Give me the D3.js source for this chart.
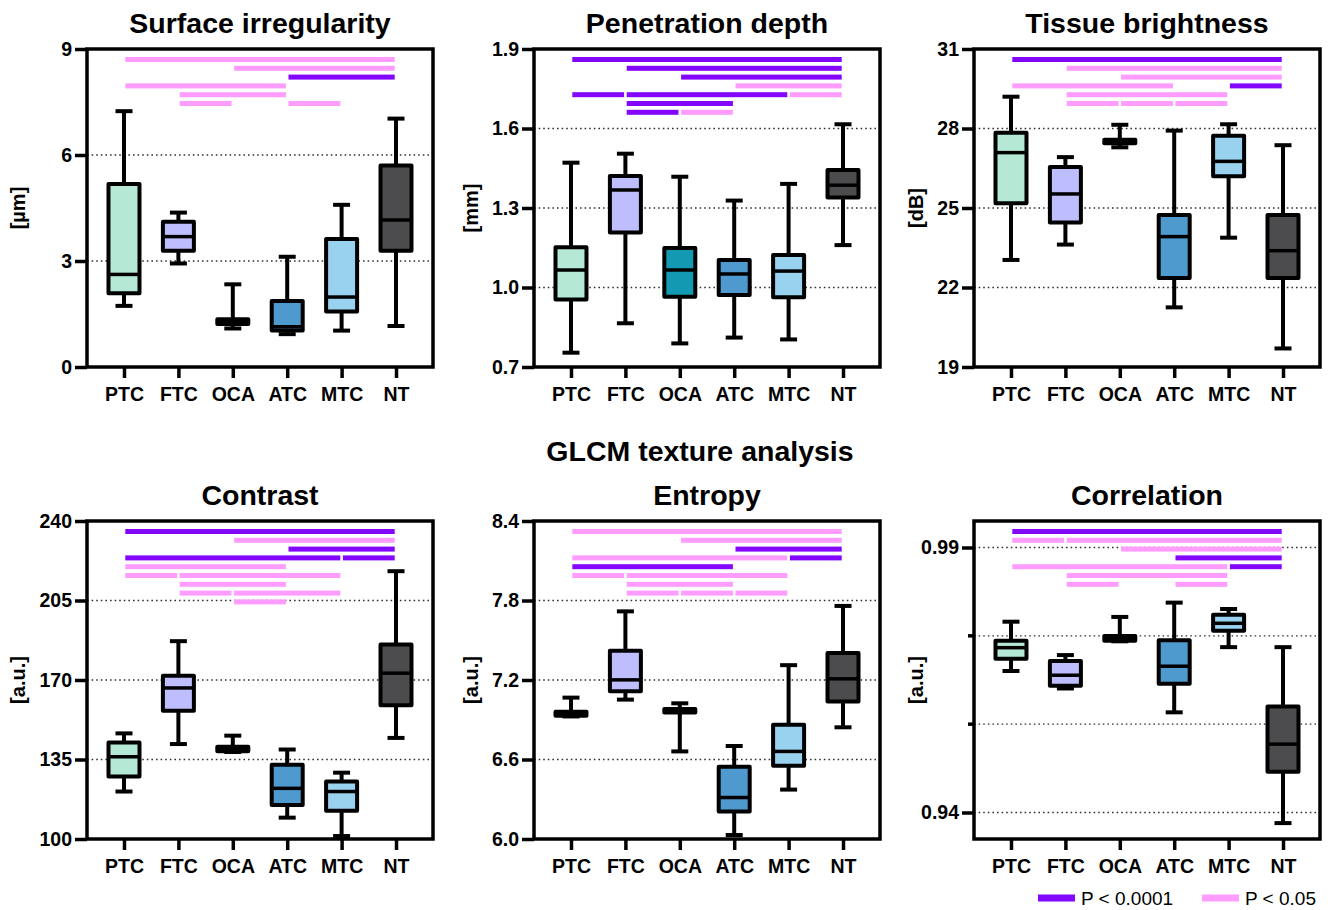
<!DOCTYPE html>
<html>
<head>
<meta charset="utf-8">
<script src="https://cdn.jsdelivr.net/npm/d3@7"></script>
<style>
  body { margin: 0; background: #fff; }
  text { font-family: "Liberation Sans", Arial, sans-serif; }
</style>
</head>
<body>
<svg id="chart" width="1338" height="910"></svg>
<script>
const categories = ["PTC", "FTC", "OCA", "ATC", "MTC", "NT"];
const boxColors = ["#b5e9d6", "#bebdfe", "#1399b2", "#4e9ace", "#99d2ee", "#4c4c4e"];

// five-number summaries per category: [min, q1, median, q3, max]
const surfaceIrregularity = [
  [1.73, 2.09, 2.62, 5.18, 7.24],
  [2.93, 3.29, 3.69, 4.11, 4.37],
  [1.09, 1.22, 1.28, 1.35, 2.34],
  [0.93, 1.03, 1.14, 1.87, 3.12],
  [1.03, 1.57, 1.98, 3.62, 4.59],
  [1.16, 3.29, 4.16, 5.70, 7.03]
];
const penetrationDepth = [
  [0.754, 0.955, 1.066, 1.152, 1.471],
  [0.865, 1.208, 1.368, 1.421, 1.505],
  [0.789, 0.965, 1.066, 1.149, 1.418],
  [0.811, 0.972, 1.051, 1.104, 1.328],
  [0.804, 0.963, 1.062, 1.123, 1.391],
  [1.160, 1.340, 1.386, 1.443, 1.616]
];
const tissueBrightness = [
  [23.04, 25.18, 27.09, 27.84, 29.20],
  [23.62, 24.45, 25.53, 26.55, 26.92],
  [27.29, 27.44, 27.53, 27.58, 28.14],
  [21.25, 22.36, 23.92, 24.74, 27.92],
  [23.88, 26.20, 26.76, 27.73, 28.16],
  [19.70, 22.36, 23.39, 24.74, 27.37]
];
const contrast = [
  [120.9, 127.5, 136.2, 142.5, 146.5],
  [141.8, 156.5, 166.5, 171.9, 187.1],
  [138.3, 138.6, 139.8, 140.6, 145.5],
  [109.4, 115.0, 122.3, 132.7, 139.4],
  [101.3, 112.4, 120.9, 125.3, 129.2],
  [144.5, 158.9, 173.0, 185.6, 217.9]
];
const entropy = [
  [6.925, 6.931, 6.946, 6.961, 7.067],
  [7.052, 7.115, 7.201, 7.421, 7.718],
  [6.661, 6.954, 6.969, 6.982, 7.024],
  [6.030, 6.207, 6.313, 6.545, 6.702],
  [6.373, 6.553, 6.661, 6.863, 7.312],
  [6.843, 7.037, 7.209, 7.403, 7.759]
];
const correlation = [
  [0.9667, 0.9690, 0.9711, 0.9724, 0.9760],
  [0.9634, 0.9639, 0.9659, 0.9686, 0.9697],
  [0.9723, 0.9724, 0.9728, 0.9733, 0.9769],
  [0.9589, 0.9643, 0.9676, 0.9725, 0.9796],
  [0.9712, 0.9743, 0.9757, 0.9773, 0.9784],
  [0.9380, 0.9477, 0.9529, 0.9600, 0.9712]
];

// significance bars: [row, from, to, p]
const surfaceSig = [
  [0, "PTC", "NT", 0.05], [1, "OCA", "NT", 0.05], [2, "ATC", "NT", 0.0001],
  [3, "PTC", "ATC", 0.05], [4, "FTC", "ATC", 0.05],
  [5, "FTC", "OCA", 0.05], [5, "ATC", "MTC", 0.05]
];
const depthSig = [
  [0, "PTC", "NT", 0.0001], [1, "FTC", "NT", 0.0001], [2, "OCA", "NT", 0.0001],
  [3, "ATC", "NT", 0.05],
  [4, "PTC", "FTC", 0.0001], [4, "FTC", "MTC", 0.0001], [4, "MTC", "NT", 0.05],
  [5, "FTC", "ATC", 0.0001],
  [6, "FTC", "OCA", 0.0001], [6, "OCA", "ATC", 0.05]
];
const brightnessSig = [
  [0, "PTC", "NT", 0.0001], [1, "FTC", "NT", 0.05], [2, "OCA", "NT", 0.05],
  [3, "PTC", "ATC", 0.05], [3, "MTC", "NT", 0.0001],
  [4, "FTC", "MTC", 0.05],
  [5, "FTC", "OCA", 0.05], [5, "OCA", "ATC", 0.05], [5, "ATC", "MTC", 0.05]
];
const contrastSig = [
  [0, "PTC", "NT", 0.0001], [1, "OCA", "NT", 0.05], [2, "ATC", "NT", 0.0001],
  [3, "PTC", "MTC", 0.0001], [3, "MTC", "NT", 0.0001],
  [4, "PTC", "ATC", 0.05],
  [5, "PTC", "FTC", 0.05], [5, "FTC", "MTC", 0.05],
  [6, "FTC", "ATC", 0.05],
  [7, "FTC", "OCA", 0.05], [7, "OCA", "MTC", 0.05],
  [8, "OCA", "ATC", 0.05]
];
const entropySig = [
  [0, "PTC", "NT", 0.05], [1, "OCA", "NT", 0.05], [2, "ATC", "NT", 0.0001],
  [3, "PTC", "MTC", 0.05], [3, "MTC", "NT", 0.0001],
  [4, "PTC", "ATC", 0.0001],
  [5, "PTC", "FTC", 0.05], [5, "FTC", "MTC", 0.05],
  [6, "FTC", "ATC", 0.05],
  [7, "FTC", "OCA", 0.05], [7, "OCA", "ATC", 0.05], [7, "ATC", "MTC", 0.05]
];
const correlationSig = [
  [0, "PTC", "NT", 0.0001],
  [1, "PTC", "FTC", 0.05], [1, "FTC", "NT", 0.05],
  [2, "OCA", "NT", 0.05], [3, "ATC", "NT", 0.0001],
  [4, "PTC", "MTC", 0.05], [4, "MTC", "NT", 0.0001],
  [5, "FTC", "MTC", 0.05],
  [6, "FTC", "OCA", 0.05], [6, "ATC", "MTC", 0.05]
];

const sigColors = { 0.0001: "#8306ff", 0.05: "#ff9cff" };

const W = 346, H = 318;
const panels = [
  { title: "Surface irregularity", unit: "[µm]", data: surfaceIrregularity, sig: surfaceSig,
    x: 87, y: 49, domain: [0, 9], ticks: [0, 3, 6, 9], fmt: d3.format("d"), labelX: -69 },
  { title: "Penetration depth", unit: "[mm]", data: penetrationDepth, sig: depthSig,
    x: 534, y: 49, domain: [0.7, 1.9], ticks: [0.7, 1.0, 1.3, 1.6, 1.9], fmt: d3.format(".1f"), labelX: -63 },
  { title: "Tissue brightness", unit: "[dB]", data: tissueBrightness, sig: brightnessSig,
    x: 974, y: 49, domain: [19, 31], ticks: [19, 22, 25, 28, 31], fmt: d3.format("d"), labelX: -58 },
  { title: "Contrast", unit: "[a.u.]", data: contrast, sig: contrastSig,
    x: 87, y: 521, domain: [100, 240], ticks: [100, 135, 170, 205, 240], fmt: d3.format("d"), labelX: -69 },
  { title: "Entropy", unit: "[a.u.]", data: entropy, sig: entropySig,
    x: 534, y: 521, domain: [6.0, 8.4], ticks: [6.0, 6.6, 7.2, 7.8, 8.4], fmt: d3.format(".1f"), labelX: -63 },
  { title: "Correlation", unit: "[a.u.]", data: correlation, sig: correlationSig,
    x: 974, y: 521, domain: [0.935, 0.995], ticks: [0.94, 0.99], minor: [0.94 + 0.05 / 3, 0.94 + 0.1 / 3],
    fmt: d3.format(".2f"), labelX: -58 }
];

const svg = d3.select("#chart");
svg.append("rect").attr("width", 1338).attr("height", 910).attr("fill", "#fff");

function drawPanel(p) {
  const g = svg.append("g").attr("transform", `translate(${p.x},${p.y})`);
  const y = d3.scaleLinear().domain(p.domain).range([H, 0]);
  const x = d3.scalePoint().domain(categories).range([0, W]).padding(0.68);
  const row = d3.scaleLinear().domain([0, 1]).range([10.5, 19.3]);

  // dotted gridlines at the inner ticks
  const gridVals = p.ticks.concat(p.minor || [])
    .filter(t => y(t) > 2 && y(t) < H - 2);
  g.append("g").selectAll("line")
    .data(gridVals)
    .enter().append("line")
    .attr("x1", 0).attr("x2", W)
    .attr("y1", d => y(d)).attr("y2", d => y(d))
    .attr("stroke", "#333")
    .attr("stroke-width", 1.4)
    .attr("stroke-dasharray", "1.6,3");

  // significance bars
  g.append("g").selectAll("rect")
    .data(p.sig)
    .enter().append("rect")
    .attr("x", d => x(d[1]) + 1.3)
    .attr("width", d => x(d[2]) - x(d[1]) - 2.6)
    .attr("y", d => row(d[0]) - 2.5)
    .attr("height", 5)
    .attr("fill", d => sigColors[d[3]]);

  // boxes
  const bw = 31, cap = 17;
  const box = g.append("g").selectAll("g")
    .data(p.data)
    .enter().append("g")
    .attr("transform", (d, i) => `translate(${x(categories[i])},0)`);

  box.append("line")
    .attr("y1", d => y(d[0])).attr("y2", d => y(d[4]))
    .attr("stroke", "#000").attr("stroke-width", 4);
  box.append("line")
    .attr("x1", -cap / 2).attr("x2", cap / 2)
    .attr("y1", d => y(d[4])).attr("y2", d => y(d[4]))
    .attr("stroke", "#000").attr("stroke-width", 4);
  box.append("line")
    .attr("x1", -cap / 2).attr("x2", cap / 2)
    .attr("y1", d => y(d[0])).attr("y2", d => y(d[0]))
    .attr("stroke", "#000").attr("stroke-width", 4);
  box.append("rect")
    .attr("x", -bw / 2).attr("width", bw)
    .attr("y", d => y(d[3]))
    .attr("height", d => y(d[1]) - y(d[3]))
    .attr("fill", (d, i) => boxColors[i])
    .attr("stroke", "#000").attr("stroke-width", 4)
    .attr("stroke-linejoin", "round");
  box.append("line")
    .attr("x1", -bw / 2).attr("x2", bw / 2)
    .attr("y1", d => y(d[2])).attr("y2", d => y(d[2]))
    .attr("stroke", "#000").attr("stroke-width", 3.5);

  // frame
  g.append("rect")
    .attr("width", W).attr("height", H)
    .attr("fill", "none")
    .attr("stroke", "#000").attr("stroke-width", 3.5);

  // y axis
  const yAxis = g.append("g")
    .call(d3.axisLeft(y).tickValues(p.ticks).tickSize(12).tickPadding(3).tickFormat(p.fmt));
  yAxis.select(".domain").remove();
  yAxis.selectAll("line").attr("stroke-width", 3.5);
  yAxis.selectAll("text")
    .attr("fill", "#000")
    .style("font-size", "19.5px").style("font-weight", "bold");

  if (p.minor) {
    g.append("g").selectAll("line")
      .data(p.minor)
      .enter().append("line")
      .attr("x1", -6).attr("x2", 0)
      .attr("y1", d => y(d)).attr("y2", d => y(d))
      .attr("stroke", "#000").attr("stroke-width", 3.5);
  }

  // x axis
  const xAxis = g.append("g")
    .attr("transform", `translate(0,${H})`)
    .call(d3.axisBottom(x).tickSize(11).tickPadding(9));
  xAxis.select(".domain").remove();
  xAxis.selectAll("line").attr("stroke-width", 3.5);
  xAxis.selectAll("text")
    .attr("fill", "#000")
    .style("font-size", "19.5px").style("font-weight", "bold");

  // titles
  g.append("text")
    .attr("x", W / 2).attr("y", -16)
    .attr("text-anchor", "middle")
    .style("font-size", "28.5px").style("font-weight", "bold")
    .text(p.title);

  g.append("text")
    .attr("transform", "rotate(-90)")
    .attr("x", -H / 2).attr("y", p.labelX)
    .attr("dy", "0.35em")
    .attr("text-anchor", "middle")
    .style("font-size", "20px").style("font-weight", "bold")
    .text(p.unit);
}

panels.forEach(drawPanel);

svg.append("text")
  .attr("x", 700).attr("y", 461)
  .attr("text-anchor", "middle")
  .style("font-size", "28.5px").style("font-weight", "bold")
  .text("GLCM texture analysis");

// legend
const legendItems = [
  { label: "P < 0.0001", p: 0.0001, x: 1038 },
  { label: "P < 0.05", p: 0.05, x: 1202 }
];
const legend = svg.append("g").selectAll("g")
  .data(legendItems)
  .enter().append("g")
  .attr("transform", d => `translate(${d.x},898)`);
legend.append("rect")
  .attr("x", 0).attr("y", -3.5)
  .attr("width", 37).attr("height", 7)
  .attr("fill", d => sigColors[d.p]);
legend.append("text")
  .attr("x", 43).attr("y", 0)
  .attr("dy", "0.35em")
  .style("font-size", "19px")
  .text(d => d.label);
</script>
</body>
</html>
